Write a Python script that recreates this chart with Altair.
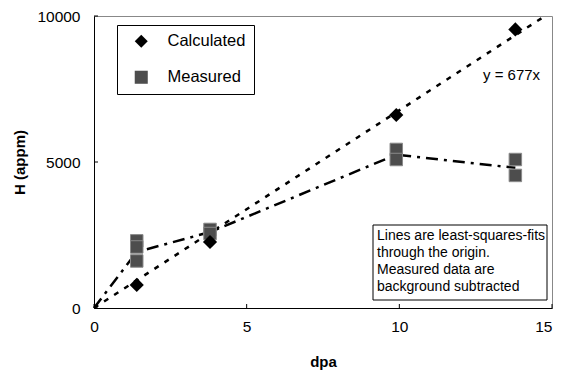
import altair as alt
import pandas as pd

# ---- data ----
series = ["Calculated", "Measured"]
calc_x = [1.4, 3.8, 9.9, 13.8]
calc_y = [790, 2260, 6610, 9540]
meas_x = [1.4, 1.4, 1.4, 3.8, 3.8, 9.9, 9.9, 13.8, 13.8]
meas_y = [2300, 2090, 1610, 2690, 2550, 5430, 5085, 5085, 4540]
meas_line_x = [0, 1.4, 3.8, 9.9, 13.8]
meas_line_y = [0, 1920, 2600, 5250, 4800]
fit_slope = 677
fit_x = [0, 15]
x_ticks = [0, 5, 10, 15]
y_ticks = [0, 5000, 10000]
note_lines = ["Lines are least-squares-fits", "through the origin.",
              "Measured data are", "background subtracted"]
eq_label = "y = 677x"

W, H = 458, 292
FONT = "Liberation Sans"

calc_df = pd.DataFrame({"x": calc_x, "y": calc_y, "s": series[0]})
meas_df = pd.DataFrame({"x": meas_x, "y": meas_y, "s": series[1]})
mline_df = pd.DataFrame({"x": meas_line_x, "y": meas_line_y})
fit_df = pd.DataFrame({"x": fit_x, "y": [fit_slope * v for v in fit_x]})

xs = alt.Scale(domain=[0, 15], nice=False)
ys = alt.Scale(domain=[0, 10000], nice=False)
x_enc = alt.X("x:Q", scale=xs, axis=alt.Axis(values=x_ticks, title="dpa", grid=False,
              tickSize=0, labelPadding=11, titlePadding=20, format="d",
              labelFlush=False, labelOverlap=False,
              labelAlign=alt.expr("datum.value >= 15 ? 'right' : 'center'")))
y_enc = alt.Y("y:Q", scale=ys, axis=alt.Axis(values=y_ticks, title="H (appm)", grid=False,
              tickSize=0, labelPadding=14, titlePadding=9, format="d",
              labelFlush=False, labelOverlap=False))

color = alt.Color("s:N", scale=alt.Scale(domain=series, range=["#000000", "#4d4d4d"]),
                  legend=alt.Legend(title=None, orient="none", legendX=23, legendY=9,
                                    strokeColor="black", fillColor="white", padding=8,
                                    symbolOffset=8, labelOffset=18, rowPadding=19,
                                    symbolSize=170, labelFontSize=16.5, labelFont=FONT,
                                    symbolStrokeWidth=0))
shape = alt.Shape("s:N", scale=alt.Scale(domain=series, range=["diamond", "square"]),
                  legend=alt.Legend(title=None))

fit_line = alt.Chart(fit_df).mark_line(color="black", strokeWidth=2.5, strokeDash=[5, 7],
                                       clip=True).encode(x=x_enc, y=y_enc)
meas_line = alt.Chart(mline_df).mark_line(color="black", strokeWidth=2.5,
                                          strokeDash=[12, 6, 3, 6]).encode(x=x_enc, y=y_enc)
meas_pts = alt.Chart(meas_df).mark_point(filled=True, size=156, opacity=1,
                                         stroke="#8a8a8a", strokeWidth=1).encode(
    x=x_enc, y=y_enc, color=color, shape=shape)
calc_pts = alt.Chart(calc_df).mark_point(filled=True, size=200, opacity=1).encode(
    x=x_enc, y=y_enc, color=color, shape=shape)

xt = alt.Chart(pd.DataFrame({"x": x_ticks})).mark_rule(color="black").encode(
    x=alt.X("x:Q", scale=xs), y=alt.value(H), y2=alt.value(H - 4))
yt = alt.Chart(pd.DataFrame({"y": y_ticks})).mark_rule(color="black").encode(
    y=alt.Y("y:Q", scale=ys), x=alt.value(0), x2=alt.value(4))

one = pd.DataFrame({"k": [0]})
note_box = alt.Chart(one).mark_rect(fill="white", stroke="black", strokeWidth=1).encode(
    x=alt.value(279), x2=alt.value(453), y=alt.value(209), y2=alt.value(284))
note_txt = alt.Chart(one).mark_text(align="left", baseline="top", fontSize=14, font=FONT,
                                    lineHeight=17, color="black").encode(
    x=alt.value(283), y=alt.value(213), text=alt.value(note_lines))
eq_txt = alt.Chart(one).mark_text(align="left", baseline="middle", fontSize=15, font=FONT,
                                  color="black").encode(
    x=alt.value(389), y=alt.value(59), text=alt.value(eq_label))

chart = alt.layer(fit_line, meas_line, xt, yt, note_box, note_txt, eq_txt, meas_pts, calc_pts).properties(
    width=W, height=H, autosize=alt.AutoSizeParams(type="none"),
    padding={"left": 86, "top": 8, "right": 1, "bottom": 64}
).configure_view(stroke="#888888", strokeWidth=1).configure_axis(
    domainColor="black", domainWidth=1, labelFont=FONT, labelFontSize=15.5,
    labelColor="black", titleFont=FONT, titleFontSize=15, titleFontWeight="bold",
    titleColor="black"
).resolve_scale(color="shared", shape="shared")

chart.save("out.html", embed_options={"renderer": "svg", "actions": False})
